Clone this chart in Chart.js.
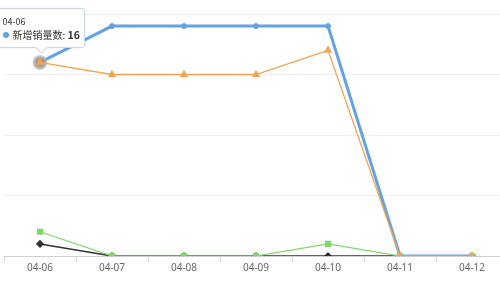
<!DOCTYPE html>
<html><head><meta charset="utf-8">
<script src="https://cdn.jsdelivr.net/npm/chart.js@4/dist/chart.umd.min.js"></script>
<style>
html,body{margin:0;padding:0;background:#fff;overflow:hidden;width:500px;height:281px;}
#wrap{position:relative;width:512px;height:281px;}
#tip{position:absolute;display:none;background:#fff;border:1px solid #c9d6e3;border-radius:3px;padding:7px 4px 5px 6px;font-family:"Noto Sans CJK SC","Noto Sans",sans-serif;color:#333;box-shadow:0 0 3px rgba(0,0,0,0.08);white-space:nowrap;}
#tip .t{font-size:9px;line-height:12px;color:#333;}
#tip .b{font-size:10px;line-height:14px;}
#tip .dot{display:inline-block;width:6px;height:6px;border-radius:50%;margin-right:4px;vertical-align:1px;}
#tip .v{font-weight:bold;font-size:10.5px;}
#tip:after{content:"";position:absolute;left:var(--cx);bottom:-5px;width:8px;height:8px;background:#fff;border-right:1px solid #c9d6e3;border-bottom:1px solid #c9d6e3;transform:rotate(45deg);margin-left:-4px;}
</style></head>
<body>
<div id="wrap"><canvas id="c" width="512" height="281"></canvas><div id="tip"></div></div>
<script>
const categories = ['04-06','04-07','04-08','04-09','04-10','04-11','04-12'];
const seriesNames = ['新增销量数','销量2','销量3','销量4'];
const blueValues   = [16, 19, 19, 19, 19, 0, 0];
const orangeValues = [16, 15, 15, 15, 17, 0, 0];
const greenValues  = [2, 0, 0, 0, 1, 0, 0];
const blackValues  = [1, 0, 0, 0, 0, 0, 0];
const yTicks = [0, 5, 10, 15, 20];

function externalTip(ctx){
  const el = document.getElementById('tip');
  const m = ctx.tooltip;
  if (!m || m.opacity === 0 || !m.dataPoints || !m.dataPoints.length){ el.style.display='none'; return; }
  const dp = m.dataPoints[0];
  const col = dp.dataset.borderColor;
  el.innerHTML = '<div class="t">'+dp.label+'</div><div class="b"><span class="dot" style="background:'+col+'"></span>'+dp.dataset.label+': <span class="v">'+dp.formattedValue+'</span></div>';
  el.style.display='block';
  const w = el.offsetWidth, h = el.offsetHeight;
  let left = m.caretX - w/2; if (left < -6) left = -6;
  el.style.left = left+'px';
  el.style.top = (m.caretY - h - 14)+'px';
  el.style.setProperty('--cx', (m.caretX-left)+'px');
}

const chart = new Chart(document.getElementById('c'), {
  type:'line',
  data:{
    labels: categories,
    datasets:[
      {label:seriesNames[1], data:orangeValues, borderColor:'rgb(240,165,85)', backgroundColor:'rgb(240,165,85)', borderWidth:1.3, pointStyle:'triangle', pointRadius:3.5, pointHoverRadius:3.5, tension:0},
      {label:seriesNames[2], data:greenValues, borderColor:'rgb(125,215,105)', backgroundColor:'rgb(125,215,105)', borderWidth:1.2, pointStyle:'rect', pointRadius:3.5, pointHoverRadius:3.5, tension:0},
      {label:seriesNames[3], data:blackValues, borderColor:'#333', backgroundColor:'#333', borderWidth:1.5, pointStyle:'rectRot', pointRadius:3, pointHoverRadius:3, tension:0},
      {label:seriesNames[0], data:blueValues, borderColor:'rgb(100,163,224)', backgroundColor:'rgb(100,163,224)', borderWidth:3, pointStyle:'circle', pointRadius:2.5, pointBorderWidth:1, pointHoverRadius:6, pointHoverBackgroundColor:'rgba(170,140,110,0.9)', pointHoverBorderColor:'rgba(170,185,200,0.7)', pointHoverBorderWidth:3, tension:0}
    ]
  },
  options:{
    responsive:false, animation:false,
    events:[],
    layout:{autoPadding:false, padding:{left:4,right:4,top:14,bottom:7}},
    plugins:{legend:{display:false}, tooltip:{enabled:false, external:externalTip, mode:'nearest', intersect:true}},
    scales:{
      x:{offset:true,
         grid:{offset:true, drawOnChartArea:false, drawTicks:true, tickLength:6, color:'#d8d8d8'},
         border:{display:true, color:'#d0d0d0'},
         ticks:{color:'#666', font:{family:'"Noto Sans", sans-serif', size:10}, padding:0, maxRotation:0}},
      y:{min:0, max:20,
         afterFit:(ax)=>{ax.width=0;},
         afterBuildTicks:(ax)=>{ax.ticks = yTicks.map(v=>({value:v}));},
         grid:{color:'#efefef', drawTicks:false},
         border:{display:false},
         ticks:{display:false}}
    }
  }
});
const el = [{datasetIndex:3, index:0}];
chart.setActiveElements(el);
const meta = chart.getDatasetMeta(3).data[0];
chart.tooltip.setActiveElements(el, {x:meta.x, y:meta.y});
chart.update('none');
</script>
</body></html>
